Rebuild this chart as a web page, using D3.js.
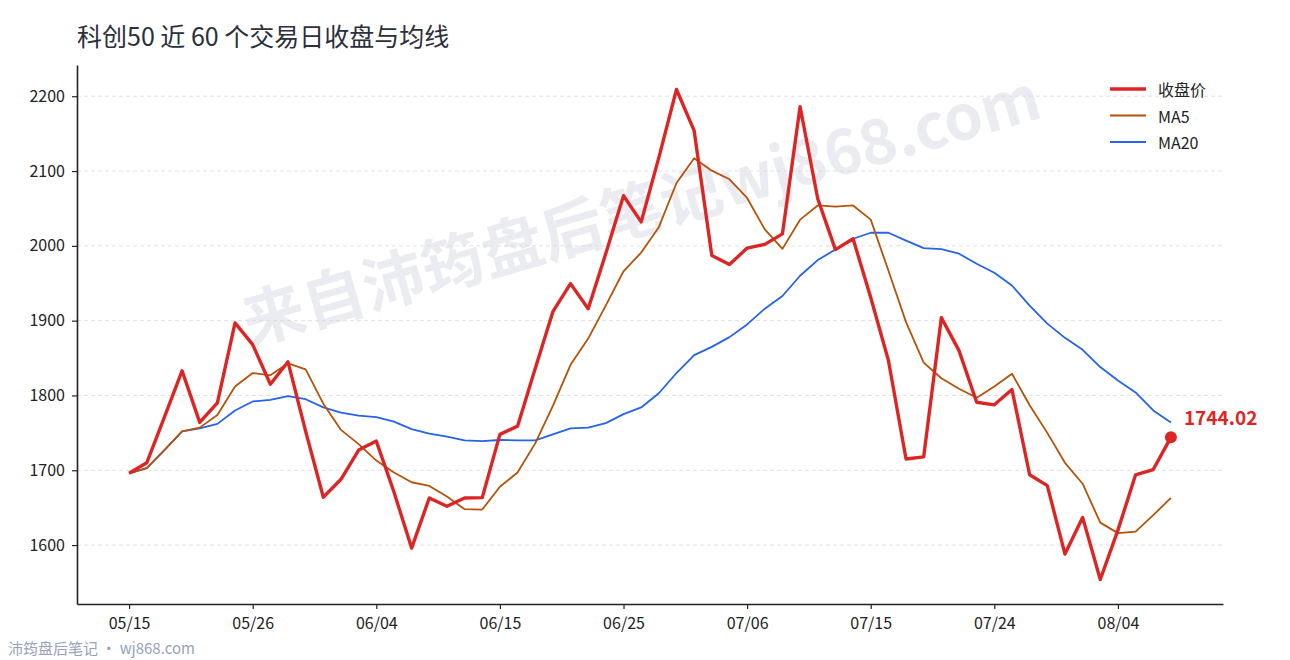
<!DOCTYPE html>
<html>
<head>
<meta charset="utf-8">
<script src="https://cdn.jsdelivr.net/npm/d3@7"></script>
<style>
    html, body { margin: 0; padding: 0; background: #fff; }
    svg { display: block; font-family: "Noto Sans CJK SC", "Noto Sans", sans-serif; }
</style>
</head>
<body>
<div id="chart"></div>
<script>
// 收盘价（60 个交易日）
const closeVals = [1696, 1710, 1771, 1833, 1764, 1790, 1897, 1868, 1815, 1845,
    1752, 1664, 1688, 1727, 1739, 1671, 1596, 1663, 1652, 1663,
    1663.5, 1748, 1759, 1836, 1912, 1949.5, 1916, 1990, 2067, 2032,
    2118, 2209, 2154, 1987, 1975, 1997, 2002, 2016, 2186, 2063,
    1995, 2009.5, 1931, 1847, 1715, 1718, 1904, 1860, 1791, 1787.5,
    1808, 1694, 1679.5, 1588, 1637, 1554, 1620, 1694, 1701, 1744.02];

const ma5Vals = [1696, 1703, 1727, 1752, 1757, 1774, 1812, 1830, 1827, 1843,
    1835, 1789, 1754, 1735, 1713, 1697, 1684, 1679, 1665, 1648,
    1647.5, 1678, 1697, 1736, 1786, 1841, 1876, 1920.5, 1966, 1991,
    2025, 2084, 2117, 2100.5, 2089, 2064, 2022, 1996, 2035, 2054,
    2052.5, 2054, 2035, 1967, 1898, 1844, 1823, 1809, 1797, 1812,
    1829, 1787, 1750, 1710, 1682, 1630, 1616, 1618, 1640, 1663];

const ma20Vals = [1696, 1703, 1727, 1752, 1756, 1762, 1780, 1792, 1794, 1799,
    1795, 1784, 1777, 1773, 1771, 1765, 1755, 1749, 1745, 1740,
    1739, 1740.5, 1740, 1740, 1748, 1756, 1757, 1763, 1775, 1784,
    1803, 1830, 1854, 1865, 1878, 1895, 1916, 1933, 1960, 1981,
    1995, 2009.5, 2017.5, 2017.5, 2007, 1997, 1995.5, 1989.5, 1976, 1964,
    1947, 1920, 1896, 1877, 1861, 1838, 1820, 1804, 1780, 1764];

// x 轴刻度：每 7 个交易日一个
const tickIndex = [0, 7, 14, 21, 28, 35, 42, 49, 56];
const tickLabels = ['05/15', '05/26', '06/04', '06/15', '06/25', '07/06', '07/15', '07/24', '08/04'];
const yTicks = [1600, 1700, 1800, 1900, 2000, 2100, 2200];

const seriesNames = ['收盘价', 'MA5', 'MA20'];
const seriesColors = ['#dc2626', '#b45309', '#2563eb'];
const seriesWidths = [3.4, 1.8, 1.8];

const width = 1290;
const height = 660;
const padding = {top: 65, right: 67, bottom: 56, left: 77};

const svg = d3.select('#chart')
    .append('svg')
    .attr('width', width)
    .attr('height', height);

const n = closeVals.length;
const xPad = (n - 1) * 0.05;
const x = d3.scaleLinear()
    .domain([-xPad, n - 1 + xPad])
    .range([padding.left, width - padding.right]);

const allVals = closeVals.concat(ma5Vals, ma20Vals);
const yMin = d3.min(allVals), yMax = d3.max(allVals);
const yPad = (yMax - yMin) * 0.05;
const y = d3.scaleLinear()
    .domain([yMin - yPad, yMax + yPad])
    .range([height - padding.bottom, padding.top]);

// 标题
svg.append('text')
    .attr('x', 77)
    .attr('y', 46)
    .attr('font-size', 25)
    .attr('fill', '#2b303b')
    .text('科创50 近 60 个交易日收盘与均线');

// 水印
svg.append('text')
    .attr('transform', 'translate(640,205) rotate(-16)')
    .attr('text-anchor', 'middle')
    .attr('dominant-baseline', 'central')
    .attr('font-size', 62)
    .attr('font-weight', 'bold')
    .attr('fill', '#eaecf1')
    .text('来自沛筠盘后笔记wj868.com');

// 网格线
svg.append('g')
    .selectAll('line')
    .data(yTicks)
    .enter()
    .append('line')
    .attr('x1', padding.left)
    .attr('x2', width - padding.right)
    .attr('y1', d => y(d))
    .attr('y2', d => y(d))
    .attr('stroke', '#d9d9d9')
    .attr('stroke-width', 0.8)
    .attr('stroke-dasharray', '4,3');

const xAxis = d3.axisBottom(x)
    .tickValues(tickIndex)
    .tickFormat((d, i) => tickLabels[i])
    .tickSize(5)
    .tickSizeOuter(0)
    .tickPadding(9);

const yAxis = d3.axisLeft(y)
    .tickValues(yTicks)
    .tickFormat(d3.format('d'))
    .tickSize(5)
    .tickSizeOuter(0)
    .tickPadding(7);

const gx = svg.append('g')
    .attr('transform', `translate(0,${height - padding.bottom})`)
    .call(xAxis);

const gy = svg.append('g')
    .attr('transform', `translate(${padding.left},0)`)
    .call(yAxis);

[gx, gy].forEach(g => {
    g.select('.domain').attr('stroke', '#222').attr('stroke-width', 1.6);
    g.selectAll('.tick line').attr('stroke', '#222').attr('stroke-width', 1.2);
    g.selectAll('.tick text')
        .attr('font-size', 16)
        .attr('fill', '#222')
        .attr('font-family', '"Noto Sans CJK SC", sans-serif');
});

// 折线
const allSeries = [closeVals, ma5Vals, ma20Vals];
const line = d3.line()
    .x((d, i) => x(i))
    .y(d => y(d));

// 先画均线，再画收盘价
[2, 1, 0].forEach(k => {
    svg.append('path')
        .datum(allSeries[k])
        .attr('fill', 'none')
        .attr('stroke', seriesColors[k])
        .attr('stroke-width', seriesWidths[k])
        .attr('stroke-linejoin', 'round')
        .attr('d', line);
});

// 最后一个点
const last = n - 1;
svg.append('circle')
    .attr('cx', x(last))
    .attr('cy', y(closeVals[last]))
    .attr('r', 6)
    .attr('fill', seriesColors[0]);

svg.append('text')
    .attr('x', x(last) + 13)
    .attr('y', y(closeVals[last]) - 12)
    .attr('font-size', 19)
    .attr('font-weight', 'bold')
    .attr('fill', seriesColors[0])
    .text(closeVals[last].toFixed(2));

// 图例
const legend = svg.append('g')
    .attr('transform', 'translate(1110,89)');

seriesNames.forEach((name, i) => {
    const row = legend.append('g').attr('transform', `translate(0,${i * 26.5})`);
    row.append('line')
        .attr('x1', 0).attr('x2', 36)
        .attr('y1', 0).attr('y2', 0)
        .attr('stroke', seriesColors[i])
        .attr('stroke-width', seriesWidths[i]);
    row.append('text')
        .attr('x', 48)
        .attr('y', 0)
        .attr('dominant-baseline', 'central')
        .attr('font-size', 16)
        .attr('fill', '#222')
        .text(name);
});

// 底部来源
svg.append('text')
    .attr('x', 8)
    .attr('y', 654)
    .attr('font-size', 15)
    .attr('fill', '#94a3b8')
    .text('沛筠盘后笔记 · wj868.com');
</script>
</body>
</html>
